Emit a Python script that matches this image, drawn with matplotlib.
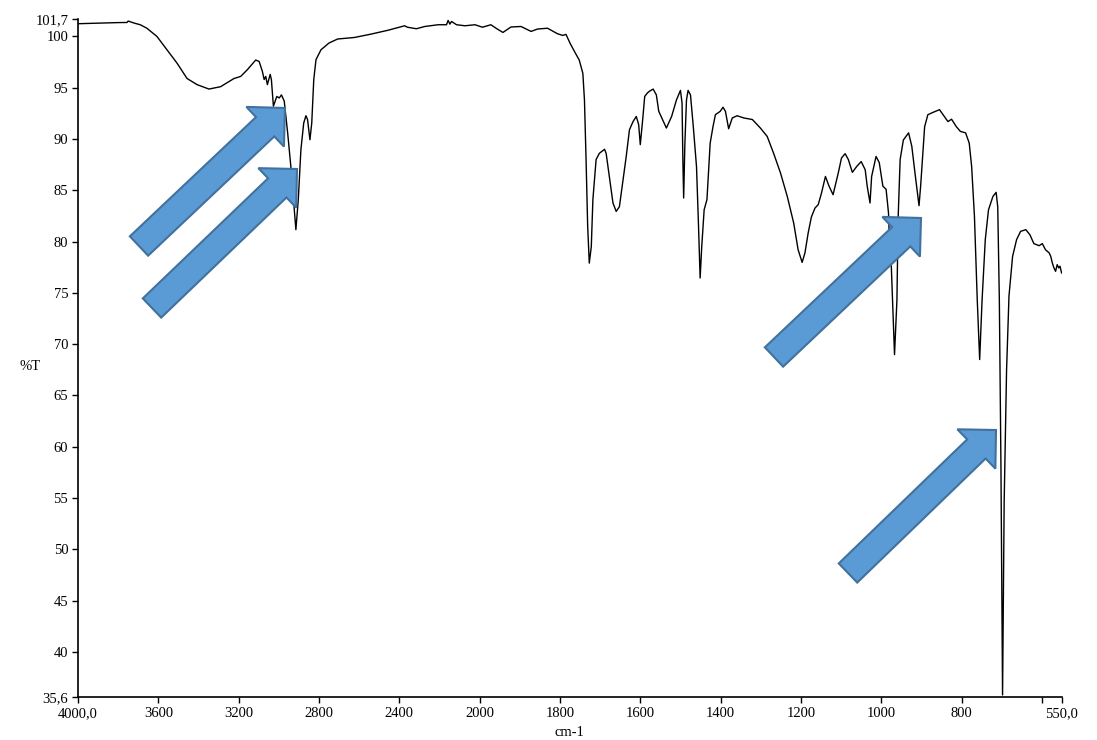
import numpy as np
import matplotlib
matplotlib.use('Agg')
from matplotlib import pyplot as plt
from matplotlib.patches import FancyArrow

plt.rcParams['font.family'] = ['Liberation Serif', 'DejaVu Serif']

# IR spectrum, wavenumber (cm-1) and transmittance (%T)
wavenumber = [4000, 3900, 3800, 3756, 3750, 3720, 3690, 3657, 3607, 3557, 3507, 3457,
              3407, 3348, 3290, 3223, 3190, 3157, 3115, 3098, 3082, 3073, 3065, 3057,
              3043, 3037, 3027, 3010, 2998, 2987, 2973, 2956, 2940, 2926, 2915, 2903,
              2890, 2876, 2865, 2857, 2845, 2836, 2826, 2815, 2790, 2750, 2707, 2623,
              2540, 2457, 2373, 2360, 2315, 2273, 2207, 2165, 2157, 2148, 2140, 2115,
              2073, 2023, 1993, 1972, 1956, 1942, 1922, 1897, 1872, 1856, 1831, 1806,
              1793, 1785, 1775, 1762, 1752, 1743, 1739, 1735, 1731, 1727, 1722, 1718,
              1710, 1702, 1689, 1685, 1677, 1668, 1660, 1652, 1643, 1635, 1627, 1618,
              1610, 1604, 1600, 1594, 1589, 1582, 1577, 1568, 1560, 1554, 1535, 1522,
              1510, 1500, 1496, 1494, 1492, 1489, 1485, 1481, 1475, 1468, 1460, 1455,
              1451, 1447, 1441, 1434, 1426, 1419, 1413, 1401, 1394, 1388, 1380, 1371,
              1359, 1342, 1321, 1301, 1284, 1268, 1251, 1234, 1218, 1207, 1197, 1190,
              1182, 1174, 1165, 1157, 1149, 1139, 1130, 1120, 1107, 1099, 1090, 1082,
              1072, 1061, 1050, 1040, 1035, 1028, 1024, 1013, 1005, 996, 988, 982,
              978, 975, 967, 961, 958, 953, 945, 932, 924, 915, 906, 902,
              892, 884, 871, 855, 846, 834, 825, 813, 803, 790, 781, 775,
              768, 761, 755, 749, 741, 733, 722, 714, 710, 706, 702, 698,
              694, 688, 682, 673, 663, 653, 640, 630, 620, 607, 599, 591,
              582, 578, 574, 570, 566, 562, 558, 555, 551]
transmittance = [101.24, 101.3, 101.35, 101.36, 101.5, 101.3, 101.14, 100.8, 100.0, 98.7, 97.4, 95.9,
                 95.3, 94.87, 95.1, 95.9, 96.1, 96.75, 97.7, 97.56, 96.6, 95.8, 96.1, 95.3,
                 96.3, 95.8, 93.2, 94.15, 94.0, 94.3, 93.7, 90.6, 87.3, 83.8, 81.16, 84.1,
                 88.96, 91.56, 92.27, 91.9, 89.93, 91.56, 95.78, 97.73, 98.7, 99.36, 99.75, 99.9,
                 100.23, 100.6, 101.04, 100.9, 100.75, 100.97, 101.14, 101.14, 101.56, 101.2, 101.46, 101.14,
                 101.04, 101.14, 100.9, 101.14, 100.72, 100.39, 100.92, 100.97, 100.49, 100.72, 100.8, 100.26,
                 100.1, 100.2, 99.35, 98.4, 97.7, 96.4, 93.8, 88.0, 81.5, 77.9, 79.5, 84.1,
                 88.0, 88.6, 89.0, 88.6, 86.35, 83.76, 82.94, 83.4, 86.0, 88.3, 90.9, 91.7,
                 92.2, 91.4, 89.45, 91.9, 94.15, 94.5, 94.66, 94.87, 94.3, 92.7, 91.07, 92.2,
                 93.8, 94.74, 93.5, 88.0, 84.25, 89.5, 93.8, 94.74, 94.3, 91.2, 87.3, 81.5,
                 76.45, 79.5, 83.1, 84.1, 89.6, 91.2, 92.37, 92.7, 93.1, 92.7, 91.0, 92.05,
                 92.27, 92.05, 91.9, 91.07, 90.25, 88.6, 86.7, 84.4, 81.8, 79.2, 77.97, 78.9,
                 80.84, 82.4, 83.27, 83.6, 84.7, 86.35, 85.4, 84.57, 86.7, 88.15, 88.57, 88.0,
                 86.75, 87.33, 87.8, 87.0, 85.4, 83.76, 86.35, 88.3, 87.7, 85.4, 85.1, 82.8,
                 78.3, 77.6, 68.98, 74.3, 82.3, 88.0, 89.9, 90.6, 89.3, 86.35, 83.5, 85.4,
                 91.2, 92.37, 92.6, 92.86, 92.37, 91.7, 91.93, 91.2, 90.74, 90.6, 89.6, 87.33,
                 82.46, 74.3, 68.5, 74.3, 80.2, 83.1, 84.4, 84.8, 83.4, 74.3, 58.0, 35.8,
                 54.6, 67.5, 74.7, 78.56, 80.2, 81.0, 81.16, 80.67, 79.8, 79.6, 79.8, 79.2,
                 78.9, 78.56, 77.9, 77.43, 77.1, 77.75, 77.43, 77.6, 76.94]

x_ticks = [4000, 3600, 3200, 2800, 2400, 2000, 1800, 1600, 1400, 1200, 1000, 800, 600, 550]
x_labels = ['4000,0', '3600', '3200', '2800', '2400', '2000', '1800', '1600', '1400',
            '1200', '1000', '800', '', '550,0']
y_ticks = [35.6, 40, 45, 50, 55, 60, 65, 70, 75, 80, 85, 90, 95, 100, 101.7]
y_labels = ['35,6', '40', '45', '50', '55', '60', '65', '70', '75', '80', '85', '90',
            '95', '100', '101,7']


# x axis is stretched by 2 below 2000 cm-1
def fwd(w):
    w = np.asarray(w, dtype=float)
    return np.where(w >= 2000, w, 2 * w - 2000)


def inv(u):
    u = np.asarray(u, dtype=float)
    return np.where(u >= 2000, u, (u + 2000) / 2)


fig = plt.figure(figsize=(10.97, 7.40), dpi=100)
ax = fig.add_axes([78 / 1097, 43 / 740, 984 / 1097, 678 / 740])
ax.set_xscale('function', functions=(fwd, inv))
ax.plot(wavenumber, transmittance, color='black', lw=1.0)
ax.set_xlim(4000, 550)
ax.set_ylim(35.6, 101.7)

ax.set_xticks(x_ticks)
ax.set_xticklabels(x_labels)
ax.set_yticks(y_ticks)
ax.set_yticklabels(y_labels)
ax.minorticks_off()
ax.tick_params(direction='out', length=4, width=1, labelsize=10.5, pad=3)
for side in ['top', 'right']:
    ax.spines[side].set_visible(False)
for side in ['left', 'bottom']:
    ax.spines[side].set_linewidth(1.2)

fig.text(30 / 1097, 1 - 367 / 740, '%T', fontsize=10.5, ha='center', va='center')
fig.text(569 / 1097, 1 - 733 / 740, 'cm-1', fontsize=10.5, ha='center', va='center')

# block arrows, tail -> tip in figure pixels
arrows = [((139, 246), (285, 108)),
          ((152, 308), (297, 169)),
          ((774, 357), (921, 218)),
          ((848, 573), (996, 430))]
for (x0, y0), (x1, y1) in arrows:
    a = FancyArrow(x0 / 100, (740 - y0) / 100, (x1 - x0) / 100, -(y1 - y0) / 100,
                   width=0.266, head_width=0.547, head_length=0.273,
                   length_includes_head=True, transform=fig.dpi_scale_trans,
                   facecolor='#5B9BD5', edgecolor='#41719C', lw=1.5, zorder=5)
    fig.patches.append(a)

plt.savefig('out.png', dpi=100)
